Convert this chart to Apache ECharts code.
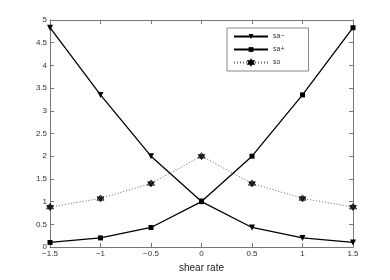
<!DOCTYPE html>
<html><head><meta charset="utf-8">
<script src="https://cdn.jsdelivr.net/npm/echarts@6/dist/echarts.min.js"></script>
<style>html,body{margin:0;padding:0;background:#fff}#c{width:390px;height:280px}</style>
</head><body><div id="c"></div>
<script>
const xValues = [-1.5, -1, -0.5, 0, 0.5, 1, 1.5];
const saMinus = [4.83, 3.35, 2.0, 1.0, 0.43, 0.2, 0.1];
const saPlus  = [0.1, 0.2, 0.43, 1.0, 2.0, 3.35, 4.83];
const so      = [0.88, 1.07, 1.4, 2.0, 1.4, 1.07, 0.88];
const seriesNames = ['sa\u2212', 'sa+', 'so'];
const xLabel = 'shear rate';

const hexagram = 'path://M0,-10L8.66,5L-8.66,5Z M0,-10L-8.66,5L8.66,5Z M0,10L-8.66,-5L8.66,-5Z';
const font = 'Liberation Sans, Arial, sans-serif';
const axisColor = '#777';
const pts = arr => xValues.map((x, i) => [x, arr[i]]);

const chart = echarts.init(document.getElementById('c'), null, {renderer: 'canvas'});
const baseX = {
  type: 'value', min: -1.5, max: 1.5, interval: 0.5,
  axisLine: {show: true, onZero: false, lineStyle: {color: axisColor, width: 1}},
  axisTick: {show: true, inside: true, length: 4, lineStyle: {color: axisColor}},
  splitLine: {show: false}
};
const baseY = {
  type: 'value', min: 0, max: 5, interval: 0.5,
  axisLine: {show: true, onZero: false, lineStyle: {color: axisColor, width: 1}},
  axisTick: {show: true, inside: true, length: 4, lineStyle: {color: axisColor}},
  splitLine: {show: false}
};
chart.setOption({
  animation: false,
  backgroundColor: '#fff',
  grid: {left: 50, right: 37, top: 20, bottom: 33, containLabel: false},
  xAxis: [
    Object.assign({}, baseX, {
      position: 'bottom',
      name: xLabel, nameLocation: 'middle', nameGap: 12,
      nameTextStyle: {fontFamily: font, fontSize: 10, color: '#222'},
      axisLabel: {fontFamily: font, fontSize: 8, color: '#333', margin: 3,
        formatter: v => String(v).replace('-', '\u2212')}
    }),
    Object.assign({}, baseX, {position: 'top', axisLabel: {show: false}})
  ],
  yAxis: [
    Object.assign({}, baseY, {
      position: 'left',
      axisLabel: {fontFamily: font, fontSize: 8, color: '#333', margin: 3}
    }),
    Object.assign({}, baseY, {position: 'right', axisLabel: {show: false}})
  ],
  legend: {
    orient: 'vertical', left: 227, top: 28,
    padding: [5, 24, 5, 6], itemGap: 6,
    itemWidth: 34, itemHeight: 6,
    backgroundColor: '#fff', borderColor: '#888', borderWidth: 1, borderRadius: 0,
    textStyle: {fontFamily: font, fontSize: 7, color: '#333'},
    data: seriesNames
  },
  series: [
    {name: seriesNames[0], type: 'line', data: pts(saMinus),
     symbol: 'triangle', symbolRotate: 180, symbolSize: 6,
     lineStyle: {color: '#000', width: 1.3}, itemStyle: {color: '#000'}},
    {name: seriesNames[1], type: 'line', data: pts(saPlus),
     symbol: 'rect', symbolSize: 5,
     lineStyle: {color: '#000', width: 1.3}, itemStyle: {color: '#000'}},
    {name: seriesNames[2], type: 'line', data: pts(so),
     symbol: hexagram, symbolSize: 7,
     lineStyle: {color: '#666', width: 1, type: [1, 2]},
     itemStyle: {color: '#222', borderColor: '#000', borderWidth: 0.5}}
  ]
});
</script></body></html>
